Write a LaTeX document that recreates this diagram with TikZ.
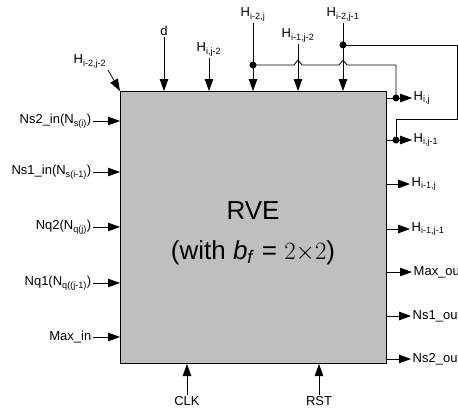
\documentclass[tikz,border=0pt]{standalone}
\usepackage{fontspec}
\setmainfont{Liberation Sans}
\usetikzlibrary{arrows.meta}

\newcommand{\hsub}[1]{H\textsubscript{#1}}

\begin{document}
\begin{tikzpicture}[
    x=1pt, y=-1pt,
    lbl/.style={font=\fontsize{13}{15}\selectfont, inner sep=1.5pt},
    rvebox/.style={draw, fill=gray!50, line width=1pt, inner sep=0pt,
                   minimum width=266pt, minimum height=272pt},
    arr/.style={-{Triangle[length=12pt,width=8.5pt]}, line width=0.8pt},
    wire/.style={line width=0.8pt},
    dot/.style={circle, fill, inner sep=0pt, minimum size=7pt}
  ]
  \useasboundingbox (0,0) rectangle (458,416);

  % ---------------- RVE block ----------------
  \node[rvebox, anchor=north west] (rve) at (120,91) {};
  \node[align=center, font=\fontsize{26}{40}\selectfont] (rvetxt) at (253,233)
    {RVE\\(with \textit{b}\textsubscript{\textit{f}} = $2{\times}2$)};

  % ---------------- left inputs ----------------
  \node[lbl, anchor=east] (ns2in) at (93,121) {Ns2\_in(N\textsubscript{s(i)})};
  \node[lbl, anchor=east] (ns1in) at (93,172) {Ns1\_in(N\textsubscript{s(i-1)})};
  \node[lbl, anchor=east] (nq2)   at (93,227) {Nq2(N\textsubscript{q(j)})};
  \node[lbl, anchor=east] (nq1)   at (93,283) {Nq1(N\textsubscript{q((j-1)})};
  \node[lbl, anchor=east] (maxin) at (93,337) {Max\_in};
  \foreach \n in {ns2in,ns1in,nq2,nq1,maxin}
    \draw[arr] (\n.east) -- (\n.east -| rve.west);

  % ---------------- top inputs ----------------
  \node[lbl, anchor=south east] (hi2j2) at (108,70) {\hsub{i-2,j-2}};
  \node[lbl, anchor=south] (d)     at (164,37) {d};
  \node[lbl, anchor=south] (hij2)  at (209,58) {\hsub{i,j-2}};
  \node[lbl, anchor=south] (hi2j)  at (253,23) {\hsub{i-2,j}};
  \node[lbl, anchor=south] (hi1j2) at (298,44) {\hsub{i-1,j-2}};
  \node[lbl, anchor=south] (hi2j1) at (343,23) {\hsub{i-2,j-1}};
  \draw[arr] (hi2j2.south east) -- (rve.north west);
  \foreach \n in {d,hij2,hi2j,hi1j2,hi2j1}
    \draw[arr] (\n.south) -- (\n.south |- rve.north);

  % ---------------- right outputs ----------------
  \node[lbl, anchor=west] (hij)    at (412,98)  {\hsub{i,j}};
  \node[lbl, anchor=west] (hij1)   at (412,140) {\hsub{i,j-1}};
  \node[lbl, anchor=west] (hi1j)   at (410,184) {\hsub{i-1,j}};
  \node[lbl, anchor=west] (hi1j1)  at (410,229) {\hsub{i-1,j-1}};
  \node[lbl, anchor=west] (maxout) at (412,272) {Max\_out};
  \node[lbl, anchor=west] (ns1out) at (411,316) {Ns1\_out};
  \node[lbl, anchor=west] (ns2out) at (411,359) {Ns2\_out};
  \foreach \n in {hij,hij1,hi1j,hi1j1,maxout,ns1out,ns2out}
    \draw[arr] (\n.west -| rve.east) -- (\n.west);

  % ---------------- bottom inputs ----------------
  \node[lbl, anchor=north] (clk) at (187,395) {CLK};
  \node[lbl, anchor=north] (rst) at (319,395) {RST};
  \draw[arr] (clk.north) -- (clk.north |- rve.south);
  \draw[arr] (rst.north) -- (rst.north |- rve.south);

  % ---------------- feedback wires ----------------
  \node[dot] (t1) at (253,65) {};
  \node[dot] (t2) at (343,45) {};
  \node[dot] (o1) at (396,98) {};
  \node[dot] (o2) at (396,140) {};
  \draw[wire] (t1.center) -- (294,65) -- (298,60) -- (302,65) -- (339,65)
    -- (343,60) -- (347,65) -- (o1.center |- t1.center) -- (o1.center);
  \draw[wire] (t2.center) -- (457,45) -- (457,119) -- (396,119) -- (o2.center);
\end{tikzpicture}
\end{document}
